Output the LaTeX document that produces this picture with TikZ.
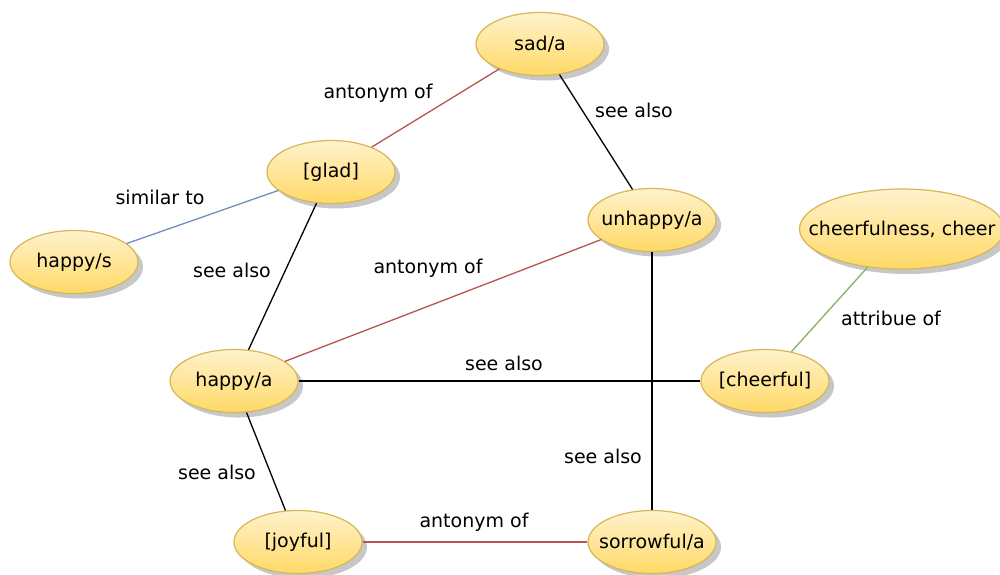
\documentclass[tikz,border=0pt]{standalone}
\usepackage{fontspec}
\setmainfont{DejaVu Sans}
\usetikzlibrary{shapes.geometric,shadows}
\definecolor{nodeTop}{HTML}{FFF2CC}
\definecolor{nodeBot}{HTML}{FFD966}
\definecolor{nodeBorder}{HTML}{D6B656}
\definecolor{relRed}{HTML}{B85450}
\definecolor{relBlue}{HTML}{6C8EBF}
\definecolor{relGreen}{HTML}{82B366}
\newcommand{\nolen}[1]{\makebox[0pt]{#1}}
\tikzset{
  concept/.style={ellipse, draw=nodeBorder, line width=1.2pt, top color=nodeTop, bottom color=nodeBot,
    minimum width=128pt, minimum height=63pt, inner sep=0pt,
    drop shadow={shadow xshift=5pt, shadow yshift=-5pt, fill=black!22, opacity=1},
    font=\fontsize{19}{23}\selectfont},
  rel/.style={font=\fontsize{19}{23}\selectfont, inner sep=0pt},
  seealso/.style={draw=black, line width=1.3pt},
  antonym/.style={draw=relRed, line width=1.3pt},
  similar/.style={draw=relBlue, line width=1.3pt},
  attrib/.style={draw=relGreen, line width=1.3pt},
}
\begin{document}
\begin{tikzpicture}[x=1pt,y=-1pt]
\useasboundingbox (0,0) rectangle (1000,574);
\node[concept] (sad) at (540,44) {\nolen{sad/a}};
\node[concept] (glad) at (331,172) {\nolen{[glad]}};
\node[concept] (unhappy) at (652,220) {\nolen{unhappy/a}};
\node[concept, minimum width=205pt, minimum height=80pt] (cheerfulness) at (902,229) {\nolen{cheerfulness, cheer}};
\node[concept] (happys) at (74,262) {\nolen{happy/s}};
\node[concept] (happya) at (234,381) {\nolen{happy/a}};
\node[concept] (cheerful) at (765,381) {\nolen{[cheerful]}};
\node[concept] (joyful) at (298,542) {\nolen{[joyful]}};
\node[concept] (sorrowful) at (652,542) {\nolen{sorrowful/a}};

\path[antonym] (sad) -- (glad);
\path[similar] (glad) -- (happys);
\path[seealso] (glad) -- (happya);
\path[seealso] (sad) -- (unhappy);
\path[antonym] (unhappy) -- (happya);
\path[seealso] (happya) -- (cheerful);
\path[seealso] (unhappy) -- (sorrowful);
\path[attrib] (cheerfulness) -- (cheerful);
\path[seealso] (happya) -- (joyful);
\path[antonym] (joyful) -- (sorrowful);

\node[rel] (l1) at (378,93) {antonym of};
\node[rel] (l2) at (160,197) {similar to};
\node[rel] (l3) at (232,270) {see also};
\node[rel] (l4) at (634,110) {see also};
\node[rel] (l5) at (428,268) {antonym of};
\node[rel] (l6) at (504,363) {see also};
\node[rel] (l7) at (603,456) {see also};
\node[rel] (l8) at (891,318) {attribue of};
\node[rel] (l9) at (217,472) {see also};
\node[rel] (l10) at (474,522) {antonym of};
\end{tikzpicture}
\end{document}
